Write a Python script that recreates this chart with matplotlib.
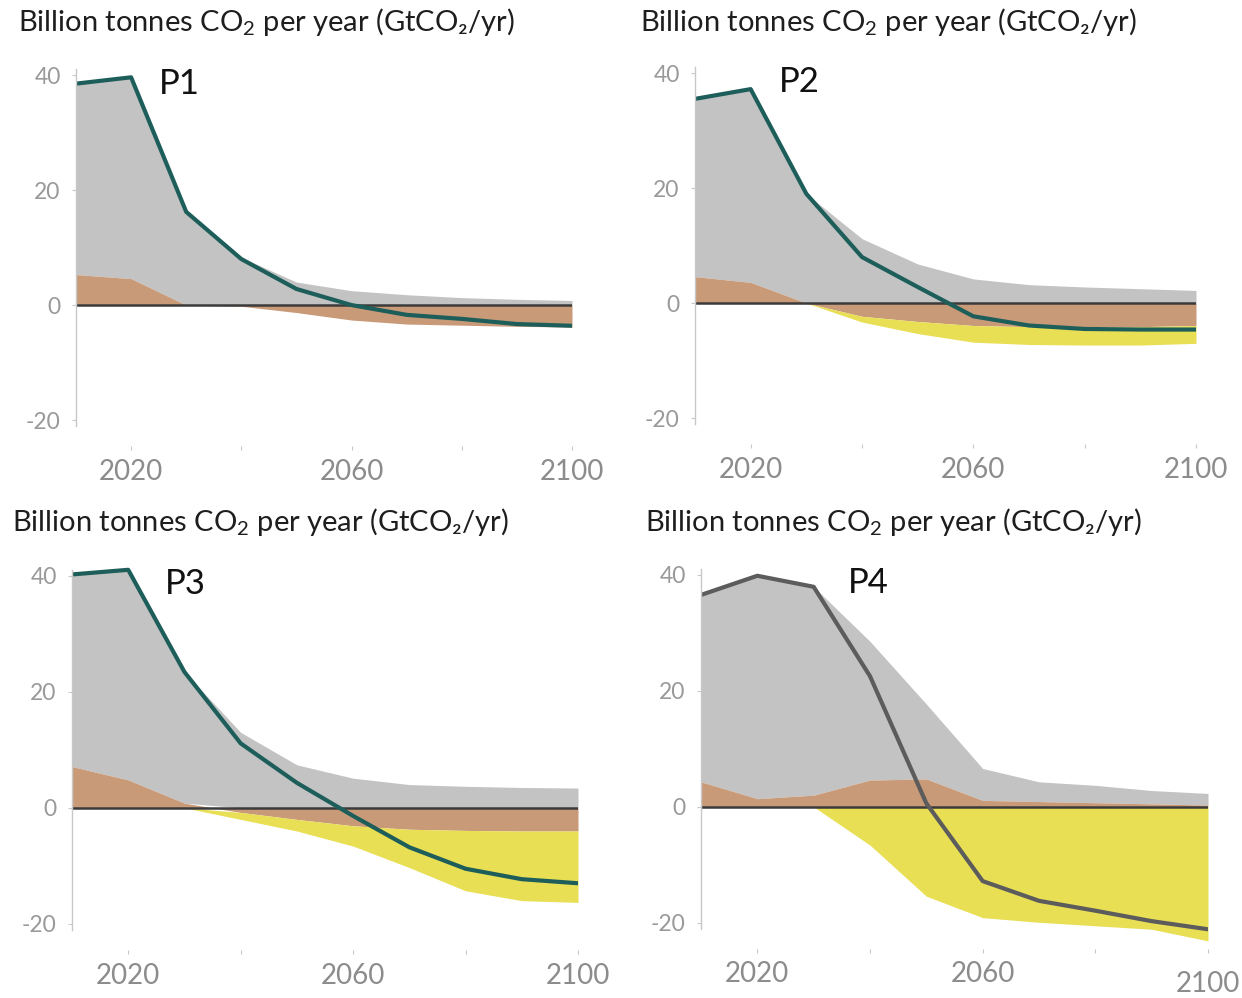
import matplotlib
matplotlib.use("Agg")
import matplotlib.pyplot as plt
import numpy as np

plt.rcParams['font.family'] = ['Lato', 'DejaVu Sans']
plt.rcParams['mathtext.fontset'] = 'custom'
plt.rcParams['mathtext.rm'] = 'Lato'
plt.rcParams['mathtext.it'] = 'Lato'

years = [2010, 2020, 2030, 2040, 2050, 2060, 2070, 2080, 2090, 2100]
pathways = ['P1', 'P2', 'P3', 'P4']

# fossil fuel & industry (grey), AFOLU (brown, signed), BECCS (yellow, removal size)
fossil_p1 = [33.2, 35.0, 16.2, 8.3, 4.0, 2.5, 1.8, 1.3, 1.0, 0.8]
afolu_p1 = [5.3, 4.6, 0.0, -0.2, -1.3, -2.6, -3.3, -3.5, -3.7, -3.8]
beccs_p1 = [0, 0, 0, 0, 0, 0, 0, 0, 0, 0]
net_p1 = [38.5, 39.6, 16.2, 8.0, 2.8, 0.0, -1.7, -2.4, -3.3, -3.6]

fossil_p2 = [30.9, 33.6, 19.0, 11.2, 6.8, 4.2, 3.2, 2.8, 2.5, 2.2]
afolu_p2 = [4.6, 3.6, 0.0, -2.3, -3.2, -3.9, -4.1, -4.1, -4.1, -3.9]
beccs_p2 = [0, 0, 0, 1.0, 2.1, 2.9, 3.1, 3.2, 3.2, 3.1]
net_p2 = [35.5, 37.2, 19.0, 8.0, 2.8, -2.3, -3.9, -4.5, -4.6, -4.6]

fossil_p3 = [33.1, 36.2, 22.6, 13.0, 7.4, 5.1, 4.0, 3.7, 3.5, 3.4]
afolu_p3 = [7.1, 4.8, 0.8, -0.8, -2.0, -3.1, -3.7, -3.9, -4.0, -4.0]
beccs_p3 = [0, 0, 0, 1.2, 2.0, 3.5, 6.6, 10.4, 12.0, 12.3]
net_p3 = [40.2, 41.0, 23.4, 11.1, 4.3, -1.4, -6.8, -10.5, -12.3, -13.0]

fossil_p4 = [32.2, 38.4, 35.9, 23.9, 12.9, 5.5, 3.4, 3.0, 2.3, 2.0]
afolu_p4 = [4.3, 1.4, 2.0, 4.6, 4.8, 1.1, 0.9, 0.7, 0.5, 0.3]
beccs_p4 = [0, 0, 0, 6.6, 15.4, 19.1, 19.9, 20.5, 21.1, 23.1]
net_p4 = [36.5, 39.8, 37.9, 22.5, 0.6, -12.8, -16.2, -17.9, -19.7, -21.1]

fossil = [fossil_p1, fossil_p2, fossil_p3, fossil_p4]
afolu = [afolu_p1, afolu_p2, afolu_p3, afolu_p4]
beccs = [beccs_p1, beccs_p2, beccs_p3, beccs_p4]
net = [net_p1, net_p2, net_p3, net_p4]

xticks = [2020, 2040, 2060, 2080, 2100]
xticklabels = ['2020', '', '2060', '', '2100']
yticks = [-20, 0, 20, 40]
ylabel = 'Billion tonnes CO$_2$ per year (GtCO\u2082/yr)'

W, H = 1242, 998
fig = plt.figure(figsize=(W / 100, H / 100), dpi=100)

# pixel boxes (left, top, right, bottom) for each panel
boxes = [(76, 63.5, 572, 446), (695, 61.5, 1196, 444),
         (72, 564, 578, 950), (701, 563, 1208, 949)]
title_pos = [(18, 22), (640, 22), (12, 522), (645, 522)]
label_x = [2025, 2025, 2026.5, 2036]
line_colors = ['#1d5e5a', '#1d5e5a', '#1d5e5a', '#5c5c5c']

GREY = '#c3c3c3'
BROWN = '#c99a78'
YELLOW = '#e8df55'

for i in range(4):
    l, t, r, b = boxes[i]
    ax = fig.add_axes([l / W, 1 - b / H, (r - l) / W, (b - t) / H])
    yr = np.array(years)
    fo = np.array(fossil[i])
    af = np.array(afolu[i])
    bc = np.array(beccs[i])
    pos = np.clip(af, 0, None)
    neg = np.clip(af, None, 0)

    ax.fill_between(yr, pos, pos + fo, color=GREY, lw=0)
    ax.fill_between(yr, 0, af, color=BROWN, lw=0)
    ax.fill_between(yr, neg, neg - bc, color=YELLOW, lw=0)
    ax.plot([2010, 2100], [0, 0], color='#3b3b3b', lw=1.8)
    ax.plot(yr, net[i], color=line_colors[i], lw=3.0, solid_joinstyle='round')

    ax.set_xlim(2010, 2100)
    ax.set_ylim(-24.5, 42)
    for s in ['top', 'right', 'bottom']:
        ax.spines[s].set_visible(False)
    ax.spines['left'].set_color('#c8c8c8')
    ax.spines['left'].set_linewidth(1.0)
    ax.spines['left'].set_bounds(-21, 41)

    ax.set_yticks(yticks)
    ax.set_yticklabels([str(v) for v in yticks])
    ax.set_xticks(xticks)
    ax.set_xticklabels(xticklabels)
    ax.tick_params(axis='y', colors='#c8c8c8', labelcolor='#999999',
                   labelsize=16.5, length=3, pad=8)
    ax.tick_params(axis='x', colors='#c8c8c8', labelcolor='#8c8c8c',
                   labelsize=20, length=3, pad=6)
    ax.set_facecolor('none')

    ax.text(label_x[i], 38.5, pathways[i], fontsize=25, color='#111111',
            ha='left', va='center')

    if i == 3:
        ax.xaxis.get_major_ticks()[-1].set_pad(13)

    tx, ty = title_pos[i]
    fig.text(tx / W, 1 - ty / H, ylabel, fontsize=21, color='#1e1e1e',
             ha='left', va='center')

fig.savefig('out.png', dpi=100)
